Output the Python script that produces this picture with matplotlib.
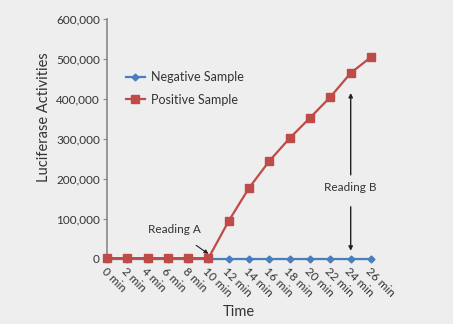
import matplotlib
matplotlib.use('Agg')
import matplotlib.pyplot as plt

times = ['0 min', '2 min', '4 min', '6 min', '8 min', '10 min', '12 min',
         '14 min', '16 min', '18 min', '20 min', '22 min', '24 min', '26 min']
negative = [0, 0, 0, 0, 0, 0, 0, 0, 0, 0, 0, 0, 0, 0]
positive = [1500, 1500, 1500, 1500, 1500, 1500, 95000, 177500, 245000,
            302000, 353000, 405000, 465000, 505000]
yticks = [0, 100000, 200000, 300000, 400000, 500000, 600000]

plt.rcParams['font.family'] = ['Lato', 'DejaVu Sans']
bg = '#eeeeee'
txt = '#333333'

fig = plt.figure(figsize=(4.53, 3.24), dpi=100, facecolor=bg)
ax = fig.add_axes([0.236, 0.2015, 0.583, 0.7395], facecolor=bg)

x = list(range(len(times)))
ax.plot(x, negative, color='#4a7ebb', lw=1.6, marker='D', ms=3.5,
        label='Negative Sample', clip_on=False, zorder=3)
ax.plot(x, positive, color='#be4b48', lw=1.6, marker='s', ms=5.5,
        label='Positive Sample', clip_on=False, zorder=4)

ax.set_xlim(0, len(times) - 1)
ax.set_ylim(0, 600000)
ax.set_yticks(yticks)
ax.set_yticklabels([f'{v:,}' for v in yticks], fontsize=8.5, color=txt)
ax.set_xticks(x)
ax.set_xticklabels(times, rotation=-45, ha='left', va='top',
                   rotation_mode='anchor', fontsize=8.5, color=txt)
ax.tick_params(axis='x', length=0, pad=5)
ax.tick_params(axis='y', length=3, color='#888888', pad=2)

for s in ['top', 'right']:
    ax.spines[s].set_visible(False)
ax.spines['left'].set_color('#888888')
ax.spines['left'].set_linewidth(1.2)
ax.spines['bottom'].set_color('#888888')

ax.set_ylabel('Luciferase Activities', fontsize=10.5, color=txt)
ax.yaxis.set_label_coords(-0.21, 0.59)
ax.set_xlabel('Time', fontsize=10.5, color=txt, va='center')
ax.xaxis.set_label_coords(0.5, -0.222)

ax.legend(loc='upper left', bbox_to_anchor=(0.03, 0.83), frameon=False,
          fontsize=9, labelcolor=txt, handlelength=1.5, handletextpad=0.5,
          labelspacing=0.85)

ax.annotate('Reading A', xy=(5, 12000), xytext=(3.3, 72000),
            fontsize=8.5, color=txt, ha='center', va='center',
            arrowprops=dict(arrowstyle='-|>', color='#222222', lw=0.8,
                            shrinkA=9, shrinkB=0, mutation_scale=6))
ax.text(12, 177500, 'Reading B', fontsize=8.5, color=txt, ha='center', va='center')
ax.annotate('', xy=(12, 415000), xytext=(12, 210000),
            arrowprops=dict(arrowstyle='-|>', color='#222222', lw=1.0,
                            shrinkA=0, shrinkB=0, mutation_scale=6))
ax.annotate('', xy=(12, 20000), xytext=(12, 130000),
            arrowprops=dict(arrowstyle='-|>', color='#222222', lw=1.0,
                            shrinkA=0, shrinkB=0, mutation_scale=6))

fig.savefig('out.png', dpi=100, facecolor=bg)
